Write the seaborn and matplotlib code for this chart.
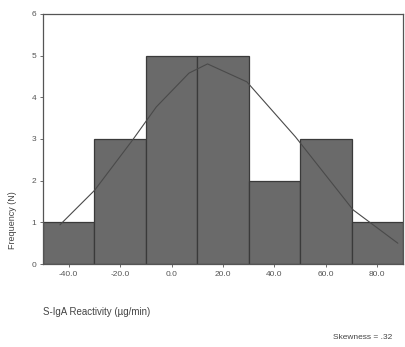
import numpy as np
import seaborn as sns
import matplotlib.pyplot as plt

sns.set_style("white")
plt.rcParams['font.family'] = ['Liberation Sans', 'DejaVu Sans']

# Histogram data (bin centers and counts)
bin_centers = [-40, -20, 0, 20, 40, 60, 80]
counts = [1, 3, 5, 5, 2, 3, 1]
bin_edges = [-50, -30, -10, 10, 30, 50, 70, 90]

# Fitted curve, points
curve_x = [-43.4, -29.9, -15.2, -5.9, 6.8, 14.0, 29.3, 48.2, 70.6, 88.0]
curve_y = [0.94, 1.77, 2.97, 3.77, 4.58, 4.8, 4.37, 3.05, 1.3, 0.5]

fig = plt.figure(figsize=(4.05, 3.47), dpi=100)
ax = fig.add_axes([0.106, 0.239, 0.889, 0.721])

sns.histplot(x=bin_centers, weights=counts, bins=bin_edges, ax=ax,
             color="#6a6a6a", edgecolor="#3a3a3a", linewidth=0.9, alpha=1)
sns.lineplot(x=curve_x, y=curve_y, ax=ax, color="#4a4a4a", linewidth=0.8)

ax.set_xlim(-50, 90)
ax.set_ylim(0, 6)
ax.set_xticks(bin_centers)
ax.set_xticklabels([f"{v:.1f}" for v in bin_centers])
ax.set_yticks(range(7))
ax.tick_params(axis='both', labelsize=6, colors="#555555", length=2, width=0.6,
               direction='out', left=True, bottom=True, pad=3)
for s in ax.spines.values():
    s.set_color("#555555")
    s.set_linewidth(0.9)

ax.set_xlabel("")
ax.set_ylabel("")
fig.text(0.106, 0.10, "S-IgA Reactivity (\u00b5g/min)", fontsize=7, color="#444444",
         ha='left', va='center')
fig.text(0.03, 0.365, "Frequency (N)", fontsize=6.5, color="#444444",
         rotation=90, ha='center', va='center')
fig.text(0.822, 0.026, "Skewness = .32", fontsize=6, color="#444444",
         ha='left', va='center')

fig.savefig("out.png", dpi=100)
